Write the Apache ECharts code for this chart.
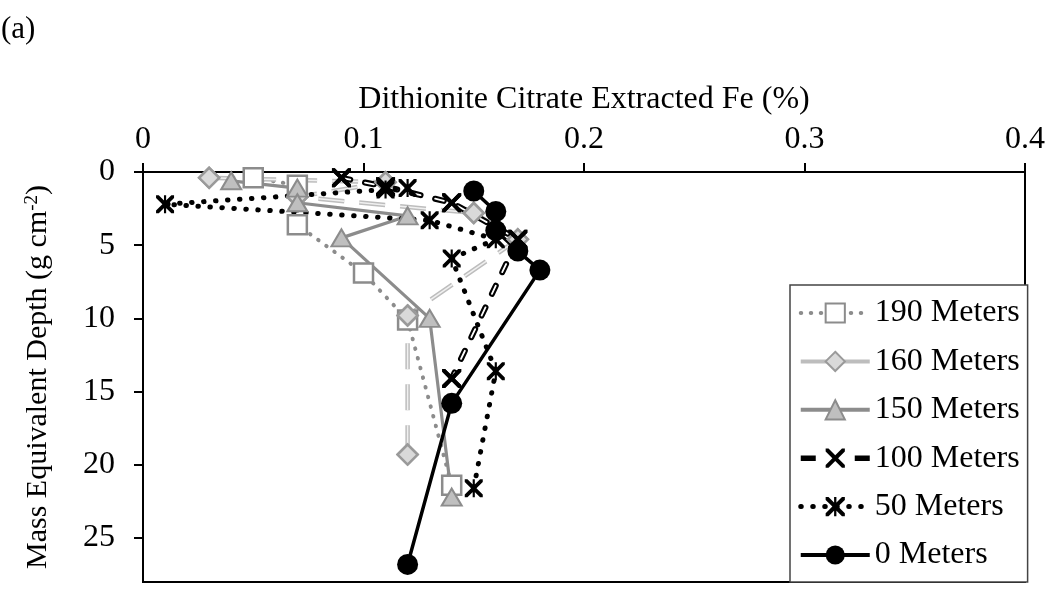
<!DOCTYPE html>
<html>
<head>
<meta charset="utf-8">
<script src="https://cdn.jsdelivr.net/npm/echarts@6/dist/echarts.min.js"></script>
<style>
  html, body { margin: 0; padding: 0; background: #fff; }
  #chart { width: 1050px; height: 594px; }
</style>
</head>
<body>
<div id="chart"></div>
<script>
// Dithionite citrate extractable Fe vs. mass equivalent depth, one profile per distance
const seriesNames = ['190 Meters', '160 Meters', '150 Meters', '100 Meters', '50 Meters', '0 Meters'];

const depth190 = [0.4, 0.9, 3.6, 6.9, 10.1, 21.4];
const fe190    = [0.05, 0.07, 0.07, 0.10, 0.12, 0.14];

const depth160 = [0.4, 0.7, 1.7, 2.8, 4.6, 9.8, 19.3];
const fe160    = [0.03, 0.11, 0.07, 0.15, 0.17, 0.12, 0.12];

const depth150 = [0.6, 1.1, 2.1, 3.0, 4.5, 10.0, 22.2];
const fe150    = [0.04, 0.07, 0.07, 0.12, 0.09, 0.13, 0.14];

const depth100 = [0.4, 1.0, 2.1, 4.6, 14.1];
const fe100    = [0.09, 0.11, 0.14, 0.17, 0.14];

const depth50  = [1.1, 1.2, 2.2, 3.3, 4.6, 5.9, 13.6, 21.6];
const fe50     = [0.12, 0.11, 0.01, 0.13, 0.16, 0.14, 0.16, 0.15];

const depth0   = [1.3, 2.7, 4.0, 5.4, 6.7, 15.8, 26.8];
const fe0      = [0.15, 0.16, 0.16, 0.17, 0.18, 0.14, 0.12];

const feTicks    = [0, 0.1, 0.2, 0.3, 0.4];
const depthTicks = [0, 5, 10, 15, 20, 25];

const FONT = "'Liberation Serif', 'Times New Roman', serif";

function pairs(fe, depth) {
  return fe.map((v, i) => [v, depth[i]]);
}

const crossSymbol = 'path://M0,0L3,0L10,7L17,0L20,0L20,3L13,10L20,17L20,20L17,20L10,13L3,20L0,20L0,17L7,10L0,3Z';
const starSymbol = crossSymbol + 'M8.8,0L11.2,0L11.2,20L8.8,20Z';

const series = [
  {
    name: seriesNames[0], type: 'line', data: pairs(fe190, depth190),
    symbol: 'rect', symbolSize: 19,
    itemStyle: { color: '#ffffff', borderColor: '#8c8c8c', borderWidth: 2.5 },
    lineStyle: { color: '#8c8c8c', width: 4, type: [0.5, 9.5], cap: 'round' }
  },
  {
    name: seriesNames[1], type: 'line', data: pairs(fe160, depth160),
    symbol: 'diamond', symbolSize: 20,
    itemStyle: { color: '#d9d9d9', borderColor: '#9a9a9a', borderWidth: 2.5 },
    lineStyle: { color: '#bdbdbd', width: 4.5, type: [26, 15] }
  },
  {
    name: '160 Meters inner', type: 'line', data: pairs(fe160, depth160),
    symbol: 'diamond', symbolSize: 20,
    itemStyle: { color: '#d9d9d9', borderColor: '#9a9a9a', borderWidth: 2.5 },
    lineStyle: { color: '#f0f0f0', width: 1.5, type: [26, 15] }
  },
  {
    name: seriesNames[2], type: 'line', data: pairs(fe150, depth150),
    symbol: 'triangle', symbolSize: [20, 17],
    itemStyle: { color: '#bfbfbf', borderColor: '#8c8c8c', borderWidth: 2 },
    lineStyle: { color: '#8c8c8c', width: 3.2 }
  },
  {
    name: seriesNames[3], type: 'line', data: pairs(fe100, depth100),
    symbol: crossSymbol, symbolSize: 19,
    itemStyle: { color: '#000000' },
    lineStyle: { color: '#000000', width: 6, type: [9, 15], cap: 'round' }
  },
  {
    name: '100 Meters inner', type: 'line', data: pairs(fe100, depth100),
    symbol: crossSymbol, symbolSize: 19,
    itemStyle: { color: '#000000' },
    lineStyle: { color: '#ffffff', width: 1.8, type: [9, 15], cap: 'round' }
  },
  {
    name: seriesNames[4], type: 'line', data: pairs(fe50, depth50),
    symbol: starSymbol, symbolSize: 18,
    itemStyle: { color: '#000000' },
    lineStyle: { color: '#000000', width: 5, type: [0.5, 11.5], cap: 'round' }
  },
  {
    name: seriesNames[5], type: 'line', data: pairs(fe0, depth0),
    symbol: 'circle', symbolSize: 21,
    itemStyle: { color: '#000000' },
    lineStyle: { color: '#000000', width: 3.5 }
  }
];
series.forEach(s => { s.animation = false; s.silent = true; });

const chart = echarts.init(document.getElementById('chart'), null, { renderer: 'canvas' });

chart.setOption({
  backgroundColor: '#ffffff',
  animation: false,
  textStyle: { fontFamily: FONT, color: '#000' },
  graphic: [{
    type: 'text', left: 1, top: 14,
    style: { text: '(a)', fontFamily: FONT, fontSize: 31, fill: '#000' }
  }],
  grid: {
    left: 143, top: 172, right: 25, bottom: 12,
    show: true, borderColor: '#000', borderWidth: 2, backgroundColor: 'transparent'
  },
  legend: {
    orient: 'vertical', left: 790, top: 285,
    padding: [12, 8, 11, 8],
    itemWidth: 69, itemHeight: 24, itemGap: 16.4,
    backgroundColor: '#ffffff', borderColor: '#444444', borderWidth: 1.5,
    textStyle: { fontFamily: FONT, fontSize: 32, lineHeight: 32, color: '#000' },
    data: [
      { name: seriesNames[0], lineStyle: { width: 4, type: [0.5, 9.5], cap: 'round' } },
      { name: seriesNames[1], lineStyle: { type: 'solid', width: 4 } },
      { name: seriesNames[2], lineStyle: { width: 4 } },
      { name: seriesNames[3], lineStyle: { width: 5.5, type: [15, 39], cap: 'butt' } },
      { name: seriesNames[4], lineStyle: { width: 5, type: [0.5, 11.5], cap: 'round' } },
      { name: seriesNames[5], lineStyle: { width: 4 } }
    ]
  },
  xAxis: {
    type: 'value', position: 'top',
    min: feTicks[0], max: feTicks[feTicks.length - 1], interval: 0.1,
    name: 'Dithionite Citrate Extracted Fe (%)',
    nameLocation: 'middle', nameGap: 56,
    nameTextStyle: { fontFamily: FONT, fontSize: 32, color: '#000' },
    axisLine: { lineStyle: { color: '#000', width: 2 } },
    axisTick: { show: true, inside: false, length: 9, lineStyle: { color: '#000', width: 2 } },
    axisLabel: { fontFamily: FONT, fontSize: 32, color: '#000', margin: 16 },
    splitLine: { show: false }
  },
  yAxis: {
    type: 'value', inverse: true,
    min: 0, max: 28, interval: 5,
    name: '{t|Mass Equivalent Depth (g cm}{s|-2}{t|)}',
    nameLocation: 'middle', nameGap: 90, nameRotate: 90,
    nameTextStyle: {
      fontFamily: FONT, color: '#000',
      rich: {
        t: { fontFamily: FONT, fontSize: 30, color: '#000' },
        s: { fontFamily: FONT, fontSize: 19, color: '#000', verticalAlign: 'top' }
      }
    },
    axisLine: { lineStyle: { color: '#000', width: 2 } },
    axisTick: { show: true, inside: false, length: 9, customValues: depthTicks, lineStyle: { color: '#000', width: 2 } },
    axisLabel: { fontFamily: FONT, fontSize: 32, color: '#000', margin: 28, customValues: depthTicks },
    splitLine: { show: false }
  },
  series: series
});
</script>
</body>
</html>
